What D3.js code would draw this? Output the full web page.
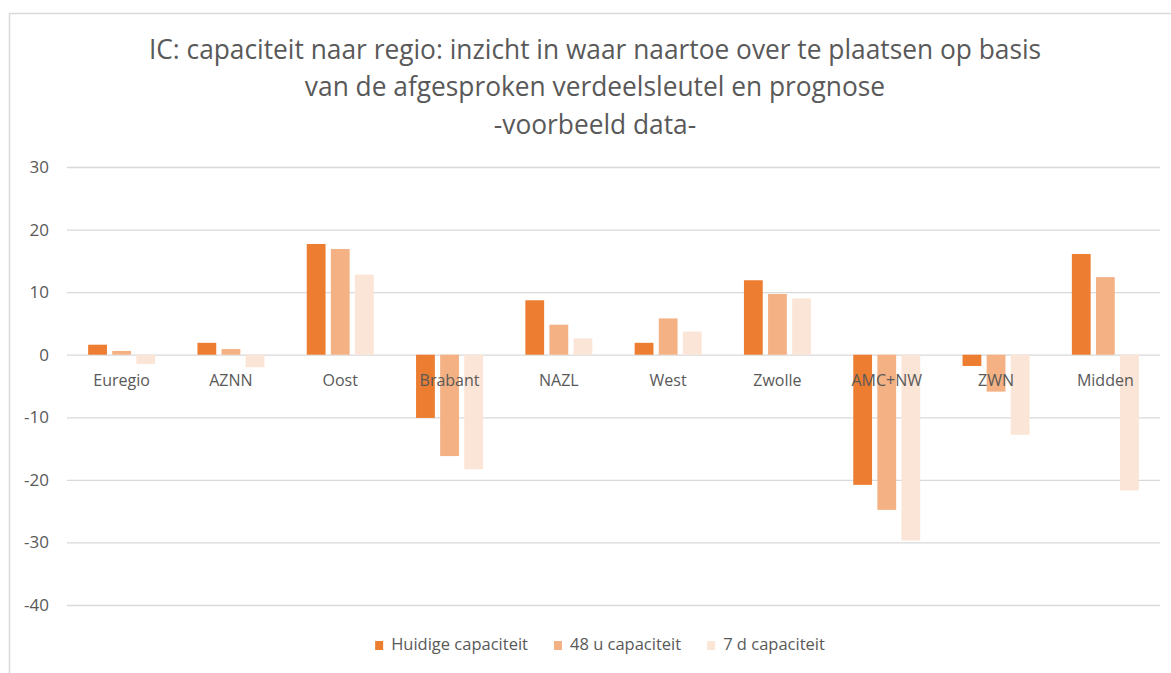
<!DOCTYPE html>
<html>
<head>
<meta charset="utf-8">
<script src="https://cdn.jsdelivr.net/npm/d3@7"></script>
<style>
  body { margin: 0; background: #fff; }
  text { font-family: "Open Sans", "Noto Sans", sans-serif; fill: #595959; }
</style>
</head>
<body>
<svg id="chart" width="1171" height="673"></svg>
<script>
"use strict";

var categories = ["Euregio", "AZNN", "Oost", "Brabant", "NAZL", "West", "Zwolle", "AMC+NW", "ZWN", "Midden"];
var seriesNames = ["Huidige capaciteit", "48 u capaciteit", "7 d capaciteit"];
var huidige = [1.6, 1.9, 17.7, -10.1, 8.7, 1.9, 11.9, -20.8, -1.8, 16.1];
var cap48u = [0.6, 0.9, 16.9, -16.2, 4.8, 5.8, 9.7, -24.8, -5.9, 12.4];
var cap7d = [-1.5, -2.0, 12.8, -18.3, 2.6, 3.7, 9.0, -29.7, -12.8, -21.7];
var yTicks = [30, 20, 10, 0, -10, -20, -30, -40];
var titleLines = [
  "IC: capaciteit naar regio: inzicht in waar naartoe over te plaatsen op basis",
  "van de afgesproken verdeelsleutel en prognose",
  "-voorbeeld data-"
];

var colors = ["#ED7D31", "#F4B183", "#FBE5D6"];
var seriesValues = [huidige, cap48u, cap7d];

var svg = d3.select("#chart");

// outer chart border (right and bottom fall outside the picture)
svg.append("rect")
    .attr("x", 9.5)
    .attr("y", 13.5)
    .attr("width", 1200)
    .attr("height", 700)
    .attr("fill", "none")
    .attr("stroke", "#d9d9d9")
    .attr("stroke-width", 1.5);

// title, condensed a bit to look like the original font
var title = svg.append("g")
    .attr("transform", "translate(595,0) scale(0.94,1)");
title.selectAll("text")
    .data(titleLines)
  .enter().append("text")
    .attr("x", 0)
    .attr("y", function(d, i) { return 59 + i * 37.5; })
    .attr("text-anchor", "middle")
    .style("font-size", "28px")
    .text(function(d) { return d; });

var left = 67, right = 1160;

var x = d3.scaleBand()
    .domain(categories)
    .range([left, right])
    .padding(0);

var x1 = d3.scaleBand()
    .domain(d3.range(seriesNames.length))
    .range([-33.5, 33.5])
    .paddingInner(0.22);

var y = d3.scaleLinear()
    .domain([-40, 30])
    .range([605, 167]);

// gridlines + tick labels
var yAxis = d3.axisLeft(y)
    .tickValues(yTicks)
    .tickSize(-(right - left))
    .tickPadding(18)
    .tickFormat(function(d) { return String(d); });

var gy = svg.append("g")
    .attr("transform", "translate(" + left + ",0)")
    .call(yAxis);
gy.select(".domain").remove();
gy.selectAll(".tick line")
    .attr("stroke", "#d9d9d9")
    .attr("stroke-width", 1.3);
gy.selectAll(".tick text")
    .attr("fill", "#595959")
    .style("font-size", "17px")
    .style("font-family", "'Open Sans', sans-serif");

// bars
var table = [];
categories.forEach(function(c, i) {
  seriesValues.forEach(function(vals, s) {
    table.push({cat: c, s: s, v: vals[i]});
  });
});

svg.append("g").selectAll("rect")
    .data(table)
  .enter().append("rect")
    .attr("x", function(d) { return x(d.cat) + x.bandwidth() / 2 + x1(d.s); })
    .attr("width", x1.bandwidth())
    .attr("y", function(d) { return y(Math.max(0, d.v)); })
    .attr("height", function(d) { return Math.abs(y(d.v) - y(0)); })
    .attr("fill", function(d) { return colors[d.s]; });

// category labels next to the zero line, drawn over the bars
svg.append("g").selectAll("text")
    .data(categories)
  .enter().append("text")
    .attr("x", function(d) { return x(d) + x.bandwidth() / 2; })
    .attr("y", y(0) + 31)
    .attr("text-anchor", "middle")
    .style("font-size", "16px")
    .text(function(d) { return d; });

// legend
var legend = svg.append("g");
var items = legend.selectAll("g")
    .data(seriesNames)
  .enter().append("g");
items.append("rect")
    .attr("width", 8)
    .attr("height", 9)
    .attr("y", 641)
    .attr("fill", function(d, i) { return colors[i]; });
items.append("text")
    .attr("x", 16)
    .attr("y", 650)
    .style("font-size", "16.5px")
    .text(function(d) { return d; });

var pos = 0;
items.each(function() {
  var w = d3.select(this).select("text").node().getComputedTextLength();
  d3.select(this).attr("transform", "translate(" + pos + ",0)");
  pos += 16 + w + 26;
});
var legendWidth = pos - 26;
legend.attr("transform", "translate(" + (600 - legendWidth / 2) + ",0)");
</script>
</body>
</html>
